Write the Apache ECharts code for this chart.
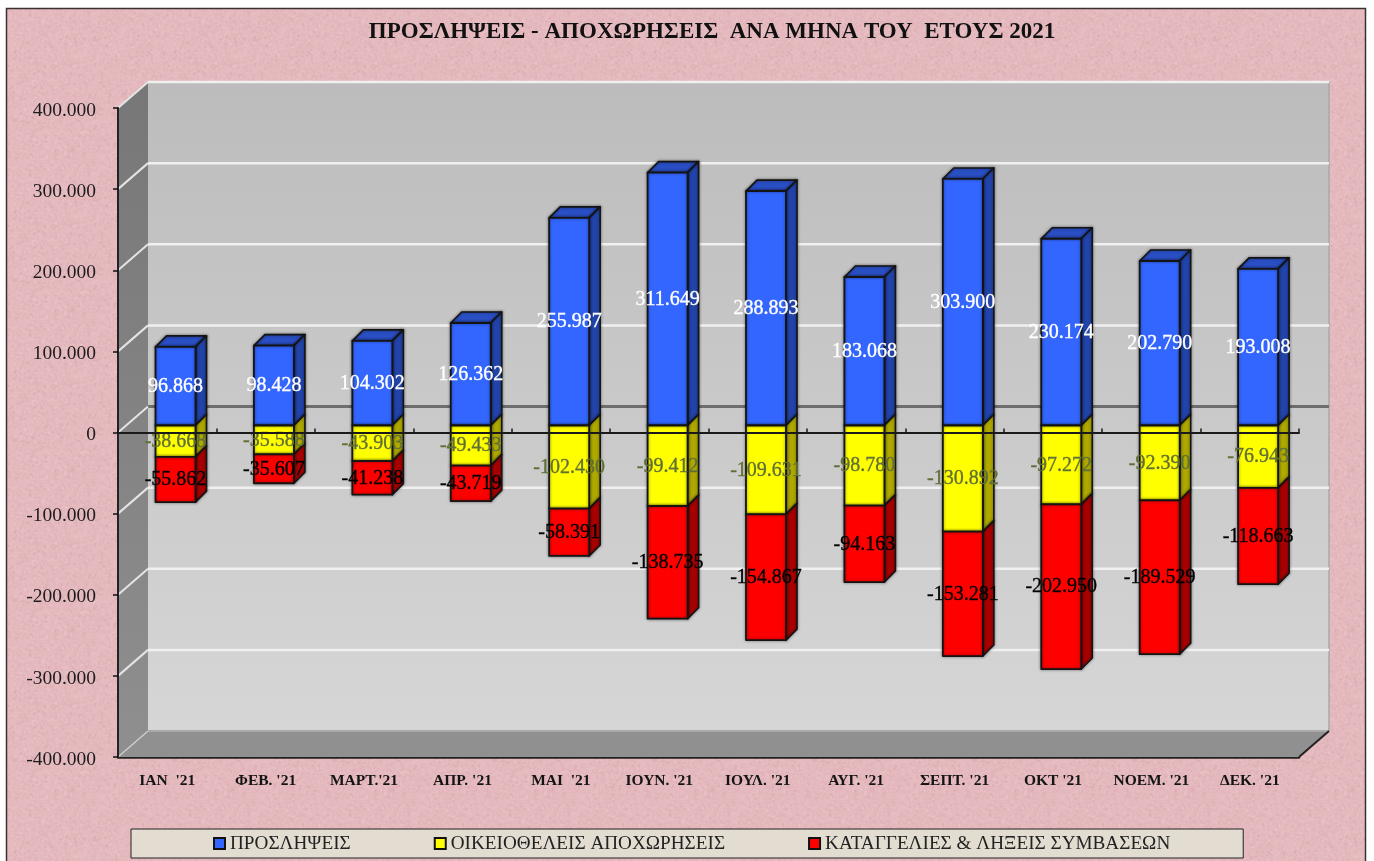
<!DOCTYPE html>
<html><head><meta charset="utf-8">
<style>html,body{margin:0;padding:0;background:#fff;overflow:hidden}#c{width:1374px;height:861px}</style>
<script src="https://cdn.jsdelivr.net/npm/echarts@6/dist/echarts.min.js"></script>
</head><body><div id="c"></div>
<script>
const months = ["ΙΑΝ  '21","ΦΕΒ. '21","ΜΑΡΤ.'21","ΑΠΡ. '21","ΜΑΙ  '21","ΙΟΥΝ. '21","ΙΟΥΛ. '21","ΑΥΓ. '21","ΣΕΠΤ. '21","ΟΚΤ '21","ΝΟΕΜ. '21","ΔΕΚ. '21"];
const hires = [96868,98428,104302,126362,255987,311649,288893,183068,303900,230174,202790,193008];
const quits = [-38668,-35588,-43903,-49433,-102430,-99412,-109631,-98780,-130892,-97272,-92390,-76943];
const layoffs = [-55862,-35607,-41238,-43719,-58391,-138735,-154867,-94163,-153281,-202950,-189529,-118663];
const yTicks = [-400000,-300000,-200000,-100000,0,100000,200000,300000,400000];
const titleText = "ΠΡΟΣΛΗΨΕΙΣ - ΑΠΟΧΩΡΗΣΕΙΣ  ΑΝΑ ΜΗΝΑ ΤΟΥ  ΕΤΟΥΣ 2021";
const seriesNames = ["ΠΡΟΣΛΗΨΕΙΣ","ΟΙΚΕΙΟΘΕΛΕΙΣ ΑΠΟΧΩΡΗΣΕΙΣ","ΚΑΤΑΓΓΕΛΙΕΣ & ΛΗΞΕΙΣ ΣΥΜΒΑΣΕΩΝ"];

const FONT = '"Liberation Serif", serif';
const WALL_DX = 30, WALL_DY = -26;   // depth of the chart box
const BAR_DX = 8.3, BAR_DY = -7;     // bar front plane inside the box
const DEPTH_X = 11, DEPTH_Y = -11;   // bar depth
const BAR_W = 40;
const fmt = v => String(v).replace(/\B(?=(\d{3})+(?!\d))/g, '.');

function tile() {
  const size = 160, cv = document.createElement('canvas');
  cv.width = cv.height = size;
  const g = cv.getContext('2d');
  g.fillStyle = '#e5babe'; g.fillRect(0, 0, size, size);
  let s = 12345;
  const next = () => (s = (s * 1103515245 + 12345) & 0x7fffffff) / 0x7fffffff;
  for (let i = 0; i < 7000; i++) {
    const x = next() * size, y = next() * size, t = next();
    g.fillStyle = t < 0.5 ? 'rgba(205,140,150,0.10)' : 'rgba(248,225,228,0.12)';
    g.fillRect(x, y, 1 + next() * 1.5, 1 + next() * 1.5);
  }
  return cv;
}

function poly(points, fill, stroke, lw, z2, shadow) {
  const style = { fill, stroke: stroke || 'none', lineWidth: lw || 0, lineJoin: 'round' };
  if (shadow) { style.shadowBlur = 3; style.shadowColor = 'rgba(0,0,0,0.45)'; }
  return { type: 'polygon', shape: { points }, z2: z2 || 1, style };
}
function line(x1, y1, x2, y2, stroke, lw, z2) {
  return { type: 'line', shape: { x1, y1, x2, y2 }, z2: z2 || 2, style: { stroke, lineWidth: lw } };
}

function renderWalls(params, api) {
  const c = params.coordSys;
  const L = c.x, R = c.x + c.width, T = c.y, B = c.y + c.height;
  const vg = (a, b) => ({ type: 'linear', x: 0, y: 0, x2: 0, y2: 1,
    colorStops: [{ offset: 0, color: a }, { offset: 1, color: b }] });
  const ch = [
    poly([[L + WALL_DX, T + WALL_DY], [R + WALL_DX, T + WALL_DY], [R + WALL_DX, B + WALL_DY], [L + WALL_DX, B + WALL_DY]], vg('#bcbcbc', '#d6d6d6')),
    poly([[L, T], [L + WALL_DX, T + WALL_DY], [L + WALL_DX, B + WALL_DY], [L, B]], vg('#777777', '#8f8f8f')),
    poly([[L, B], [L + WALL_DX, B + WALL_DY], [R + WALL_DX, B + WALL_DY], [R, B]], '#909090'),
    line(L + WALL_DX, B + WALL_DY, R + WALL_DX, B + WALL_DY, '#aaaaaa', 2, 2),
    line(R, B, R + WALL_DX, B + WALL_DY, '#222222', 2, 3),
    line(L, B, L + WALL_DX, B + WALL_DY, '#cccccc', 1.5, 3),
    line(R + WALL_DX, T + WALL_DY, R + WALL_DX, B + WALL_DY, '#a8a8a8', 1.5, 2)
  ];
  yTicks.forEach(v => {
    const y = api.coord([0, v])[1];
    if (v === -400000) return;
    const back = v === 0 ? '#6e6e6e' : '#f0f0f0';
    ch.push(line(L + WALL_DX, y + WALL_DY, R + WALL_DX, y + WALL_DY, back, v === 0 ? 3 : 2.5, 3));
    ch.push(line(L, y, L + WALL_DX, y + WALL_DY, '#e4e4e4', 2, 3));
  });
  return { type: 'group', children: ch };
}

function barRenderer(faces, textColor, showTop) {
  return function (params, api) {
    const i = api.value(0);
    const p0 = api.coord([i, api.value(1)]);
    const p1 = api.coord([i, api.value(2)]);
    const cx = p0[0] + BAR_DX;
    const x0 = cx - BAR_W / 2, x1 = cx + BAR_W / 2;
    const yA = p0[1] + BAR_DY, yB = p1[1] + BAR_DY;
    const top = Math.min(yA, yB), bot = Math.max(yA, yB);
    const ink = '#141414';
    const ch = [
      poly([[x1, top], [x1 + DEPTH_X, top + DEPTH_Y], [x1 + DEPTH_X, bot + DEPTH_Y], [x1, bot]], faces.side, ink, 1.6, 2, true),
      poly([[x0, top], [x1, top], [x1, bot], [x0, bot]], faces.front, ink, 1.8, 3, true),
      { type: 'text', z2: 50, style: { text: fmt(api.value(3)), x: cx, y: (top + bot) / 2 + 0.5,
          align: 'center', verticalAlign: 'middle', fill: textColor, stroke: textColor, lineWidth: 0.35,
          font: '20px ' + FONT } }
    ];
    if (showTop) ch.unshift(poly([[x0, top], [x0 + DEPTH_X, top + DEPTH_Y], [x1 + DEPTH_X, top + DEPTH_Y], [x1, top]], faces.top, ink, 1.6, 2, true));
    return { type: 'group', children: ch };
  };
}

const blueData = hires.map((v, i) => [i, 0, v, v]);
const yellowData = quits.map((v, i) => [i, 0, v, v]);
const redData = layoffs.map((v, i) => [i, quits[i], quits[i] + v, v]);

const chart = echarts.init(document.getElementById('c'), null, { renderer: 'canvas' });
chart.setOption({
  animation: false,
  backgroundColor: 'transparent',
  graphic: [{ type: 'rect', z: -10, shape: { x: 6.5, y: 8.5, width: 1359, height: 860 },
    style: { fill: { image: tile(), repeat: 'repeat' }, stroke: '#3a3030', lineWidth: 1.5 } }],
  title: { text: titleText, left: 707, textAlign: 'center', top: 16,
    textStyle: { fontFamily: FONT, fontSize: 23, fontWeight: 'bold', color: '#111' } },
  legend: {
    data: seriesNames, left: 131, top: 829, orient: 'horizontal',
    padding: [5, 73, 5, 82], itemGap: 83, itemWidth: 11, itemHeight: 11,
    backgroundColor: '#e3ddd1', borderColor: '#222', borderWidth: 1,
    icon: 'rect', selectedMode: false,
    textStyle: { fontFamily: FONT, fontSize: 19.2, color: '#222', padding: [0, 0, 0, 0] }
  },
  grid: { left: 118, right: 75, top: 108, bottom: 104, containLabel: false },
  xAxis: [
    { type: 'category', data: months, position: 'bottom',
      axisLine: { onZero: false, lineStyle: { color: '#222', width: 2.5 } },
      axisTick: { show: false },
      axisLabel: { margin: 16, interval: 0, fontFamily: FONT, fontSize: 15.5, fontWeight: 'bold', color: '#141414' } },
    { type: 'category', data: months, z: 5,
      axisLine: { onZero: true, lineStyle: { color: '#1a1a1a', width: 2 } },
      axisTick: { show: true, length: 4, inside: false, alignWithLabel: false, lineStyle: { color: '#1a1a1a', width: 1.5 } },
      axisLabel: { show: false } }
  ],
  yAxis: { type: 'value', min: -400000, max: 400000, interval: 100000, z: 5,
    axisLine: { show: true, lineStyle: { color: '#222', width: 2 } },
    axisTick: { show: true, length: 5, lineStyle: { color: '#111', width: 1.5 } },
    splitLine: { show: false },
    axisLabel: { margin: 22, formatter: v => '{t|' + fmt(v) + '}',
      rich: { t: { fontFamily: FONT, fontSize: 19.5, color: '#1c1c1c', padding: [5, 0, 0, 0] } } } },
  series: [
    { type: 'custom', name: 'walls', z: 1, silent: true, data: [[0]], renderItem: renderWalls, clip: false, encode: { x: 0 } },
    { type: 'custom', name: seriesNames[0], z: 2, itemStyle: { color: '#3366ff', borderColor: '#111', borderWidth: 2 },
      renderItem: barRenderer({ front: '#3366ff', side: '#2244aa', top: '#2a4fc4' }, '#ffffff', true),
      data: blueData, encode: { x: 0, y: [1, 2] }, clip: false },
    { type: 'custom', name: seriesNames[1], z: 2, itemStyle: { color: '#ffff00', borderColor: '#111', borderWidth: 2 },
      renderItem: barRenderer({ front: '#ffff00', side: '#aea800', top: '#d0d000' }, '#5f6f35', false),
      data: yellowData, encode: { x: 0, y: [1, 2] }, clip: false },
    { type: 'custom', name: seriesNames[2], z: 2, itemStyle: { color: '#ff0000', borderColor: '#111', borderWidth: 2 },
      renderItem: barRenderer({ front: '#ff0000', side: '#a80000', top: '#d00000' }, '#000000', false),
      data: redData, encode: { x: 0, y: [1, 2] }, clip: false }
  ]
});
</script></body></html>
